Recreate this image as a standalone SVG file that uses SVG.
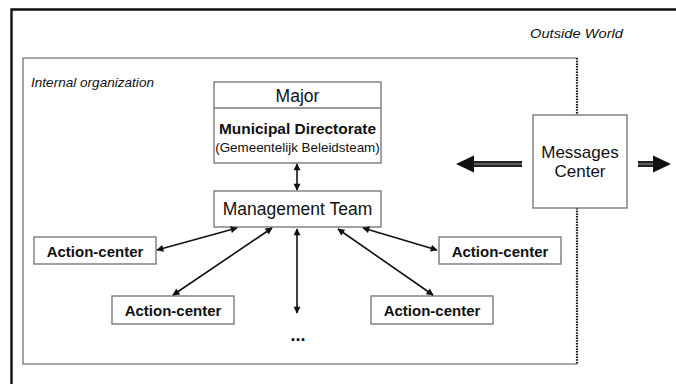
<svg xmlns="http://www.w3.org/2000/svg" width="676" height="384" viewBox="0 0 676 384">
<defs>
<style>
.box{fill:#fff;stroke:#7a7a7a;stroke-width:1.4}
.t{font-family:"Liberation Sans",Arial,sans-serif;fill:#111;text-anchor:middle}
.b{font-weight:bold}
.it{font-family:"Liberation Sans",Arial,sans-serif;font-style:italic;fill:#111}
.con{stroke:#111;stroke-width:1.6;fill:none;marker-start:url(#ah);marker-end:url(#ah)}
.dot{stroke:#111;stroke-width:2.2;stroke-dasharray:1.5 1.2;fill:none}
</style>
<marker id="ah" viewBox="0 0 10 10" refX="9" refY="5" markerWidth="8" markerHeight="7" markerUnits="userSpaceOnUse" orient="auto-start-reverse">
<path d="M0,0 L10,5 L0,10 z" fill="#111"/>
</marker>
</defs>
<rect width="676" height="384" fill="#fff"/>
<g id="frame">
<path d="M11.5,384 V9.5 H676" fill="none" stroke="#111" stroke-width="2.4"/>
<text class="it" x="530" y="37.5" font-size="13" textLength="93" lengthAdjust="spacingAndGlyphs">Outside World</text>
</g>
<g id="internal">
<path d="M577,58 H23 V364 H577" fill="none" stroke="#8a8a8a" stroke-width="1.6"/>
<path class="dot" d="M577,58 V115 M577,208 V364"/>
<text class="it" x="31" y="87" font-size="13" textLength="123" lengthAdjust="spacingAndGlyphs">Internal organization</text>
</g>
<g id="major">
<rect class="box" x="214" y="82" width="167" height="81"/>
<line x1="214" y1="108" x2="381" y2="108" stroke="#7a7a7a" stroke-width="1.4"/>
<text class="t" x="297.5" y="101.5" font-size="17.5">Major</text>
<text class="t b" x="297.5" y="133.5" font-size="14.5" textLength="157" lengthAdjust="spacingAndGlyphs">Municipal Directorate</text>
<text class="t" x="297.5" y="152" font-size="13.4">(Gemeentelijk Beleidsteam)</text>
</g>
<g id="management">
<rect class="box" x="214" y="191" width="167" height="36"/>
<text class="t" x="297.5" y="215" font-size="17.5">Management Team</text>
</g>
<g id="ac1">
<rect class="box" x="34" y="237" width="122" height="27"/>
<text class="t b" x="95" y="256.5" font-size="15">Action-center</text>
</g>
<g id="ac2">
<rect class="box" x="112" y="296" width="122" height="28"/>
<text class="t b" x="173" y="316" font-size="15">Action-center</text>
</g>
<g id="ac3">
<rect class="box" x="439" y="237" width="122" height="27"/>
<text class="t b" x="500" y="256.5" font-size="15">Action-center</text>
</g>
<g id="ac4">
<rect class="box" x="371" y="296" width="122" height="28"/>
<text class="t b" x="432" y="316" font-size="15">Action-center</text>
</g>
<g id="more">
<text class="t b" x="298" y="341" font-size="18">...</text>
</g>
<g id="messages">
<rect class="box" x="533" y="115" width="94" height="93"/>
<text class="t" x="580" y="157.5" font-size="17">Messages</text>
<text class="t" x="580" y="177" font-size="17">Center</text>
</g>
<g id="connectors">
<line class="con" x1="297" y1="164" x2="297" y2="190"/>
<line class="con" x1="237" y1="228" x2="157" y2="250"/>
<line class="con" x1="272" y1="228" x2="173" y2="295"/>
<line class="con" x1="297" y1="229" x2="297" y2="313"/>
<line class="con" x1="338" y1="229" x2="433" y2="295"/>
<line class="con" x1="363" y1="228" x2="437" y2="250"/>
<g id="flow-left">
<rect x="472" y="161" width="50" height="6" fill="#222"/>
<line x1="472" y1="164" x2="522" y2="164" stroke="#999" stroke-width="1"/>
<path d="M456,164 L474,155.5 L474,172.5 z" fill="#111"/>
</g>
<g id="flow-right">
<rect x="638" y="161" width="16" height="6" fill="#222"/>
<line x1="638" y1="164" x2="654" y2="164" stroke="#999" stroke-width="1"/>
<path d="M671,164 L653,155.5 L653,172.5 z" fill="#111"/>
</g>
</g>
</svg>
